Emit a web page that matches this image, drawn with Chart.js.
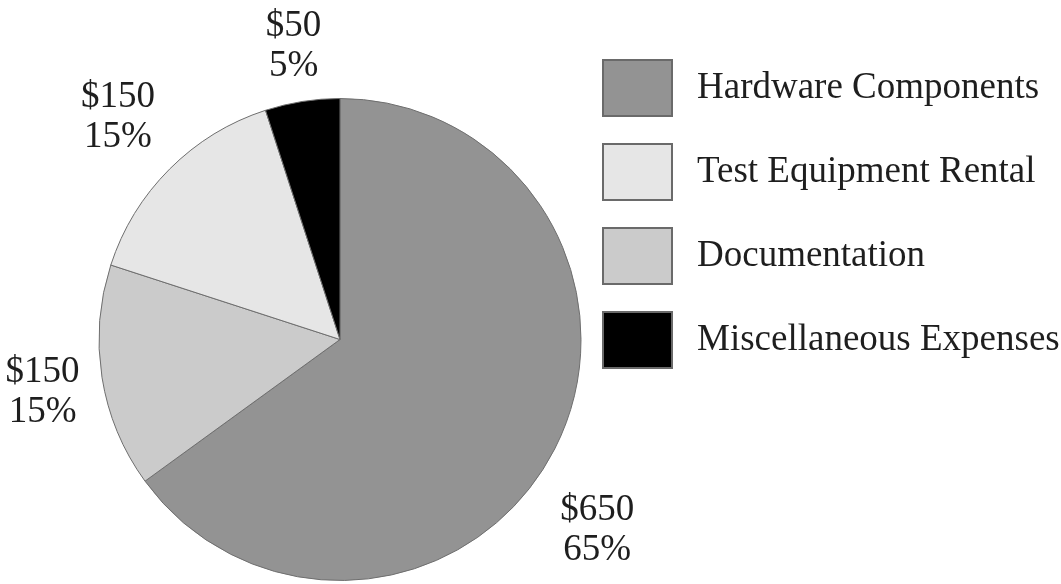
<!DOCTYPE html>
<html>
<head>
<meta charset="utf-8">
<script src="https://cdn.jsdelivr.net/npm/chart.js@4"></script>
<style>
  body { margin: 0; background: #fff; }
  #wrap { width: 1061px; height: 584px; }
</style>
</head>
<body>
<div id="wrap"><canvas id="budgetChart"></canvas></div>
<script>
// Budget breakdown, in drawing order (clockwise from 12 o'clock)
var categories = ["Hardware Components", "Documentation", "Test Equipment Rental", "Miscellaneous Expenses"];
var amounts = [650, 150, 150, 50];
var sliceColors = ["#939393", "#cbcbcb", "#e6e6e6", "#000000"];

// Legend lists the categories in this order
var legendOrder = ["Hardware Components", "Test Equipment Rental", "Documentation", "Miscellaneous Expenses"];

// Outside labels: extra distance past the rim, and a small turn in degrees
var labelGap = [79, 61, 73, 56];
var labelTurn = [9.5, -1, 0, 0];

var serif = '"Liberation Serif", "Times New Roman", serif';

// Draws "$value" and "percent" next to each slice
var sliceLabels = {
    id: 'sliceLabels',
    afterDatasetsDraw: function(chart) {
        var ctx = chart.ctx;
        var meta = chart.getDatasetMeta(0);
        var total = amounts.reduce(function(a, b) { return a + b; }, 0);
        ctx.save();
        ctx.font = '37px ' + serif;
        ctx.fillStyle = '#1e1e1e';
        ctx.textAlign = 'center';
        ctx.textBaseline = 'middle';
        meta.data.forEach(function(arc, i) {
            var p = arc.getProps(['x', 'y', 'startAngle', 'endAngle', 'outerRadius'], true);
            var mid = (p.startAngle + p.endAngle) / 2 + labelTurn[i] * Math.PI / 180;
            var d = p.outerRadius + labelGap[i];
            var cx = p.x + Math.cos(mid) * d;
            var cy = p.y + Math.sin(mid) * d;
            ctx.fillText('$' + amounts[i], cx, cy - 20);
            ctx.fillText(Math.round(amounts[i] / total * 100) + '%', cx, cy + 20);
        });
        ctx.restore();
    }
};

// Legend on the right, boxes with names beside them
var sideLegend = {
    id: 'sideLegend',
    afterDraw: function(chart) {
        var ctx = chart.ctx;
        var o = chart.options.plugins.sideLegend;
        ctx.save();
        ctx.font = '37px ' + serif;
        ctx.textAlign = 'left';
        ctx.textBaseline = 'middle';
        legendOrder.forEach(function(name, k) {
            var i = categories.indexOf(name);
            var top = o.top + k * o.pitch;
            ctx.fillStyle = sliceColors[i];
            ctx.fillRect(o.left, top, o.boxWidth, o.boxHeight);
            ctx.strokeStyle = '#6a6a6a';
            ctx.lineWidth = 2;
            ctx.strokeRect(o.left, top, o.boxWidth, o.boxHeight);
            ctx.fillStyle = '#1e1e1e';
            ctx.fillText(name, o.left + o.boxWidth + o.gap, top + o.boxHeight / 2);
        });
        ctx.restore();
    }
};

var ctx = document.getElementById('budgetChart').getContext('2d');
var chart = new Chart(ctx, {
    type: 'pie',
    data: {
        labels: categories,
        datasets: [{
            data: amounts,
            backgroundColor: sliceColors,
            borderColor: '#6e6e6e',
            borderWidth: 1
        }]
    },
    options: {
        responsive: true,
        maintainAspectRatio: false,
        animation: false,
        layout: { padding: { left: 98, right: 479, top: 98, bottom: 3 } },
        plugins: {
            legend: { display: false },
            tooltip: { enabled: false },
            sideLegend: { left: 603, top: 60, boxWidth: 69, boxHeight: 56, pitch: 84, gap: 25 }
        }
    },
    plugins: [sliceLabels, sideLegend]
});
</script>
</body>
</html>
